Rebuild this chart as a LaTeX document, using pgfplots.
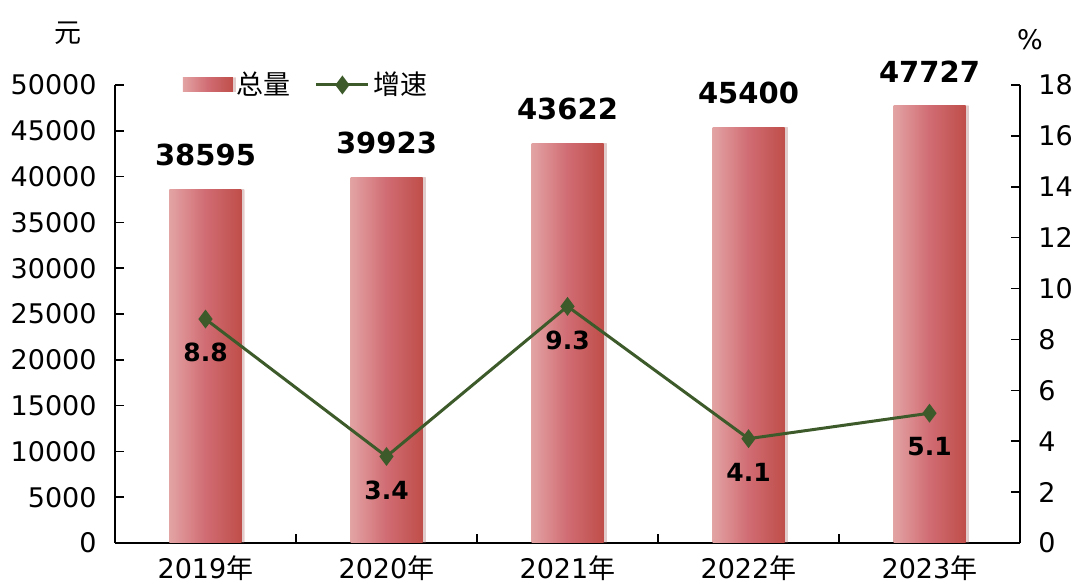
\documentclass[border=0pt]{standalone}
\usepackage{pgfplots}
\pgfplotsset{compat=1.18}
\usetikzlibrary{shadows}
\usepackage{fontspec}
\setmainfont{DejaVu Sans}
\newfontfamily\cjk{Noto Sans CJK SC}
\definecolor{barL}{HTML}{E3A3A3}
\definecolor{barM}{HTML}{D06C73}
\definecolor{barR}{HTML}{BF4E49}
\definecolor{linec}{HTML}{3D5A2A}
\pgfplotsset{
  longline/.style={legend image code/.code={\draw[mark repeat=2, mark phase=2, ##1] plot coordinates {(0pt,0pt) (13pt,0pt) (26pt,0pt)};}},
  barleg/.style={legend image code/.code={\fill[left color=barL, right color=barR, middle color=barM] (0pt,-3.5pt) rectangle (25pt,3.5pt);}},
  onebar/.style={ybar, bar width=36pt, bar shift=0pt, draw=none,
    left color=barL, right color=barR, middle color=barM,
    drop shadow={shadow xshift=1.5pt, shadow yshift=0pt, opacity=0.18, fill=gray},
    nodes near coords,
    every node near coord/.append style={font=\fontsize{14.5}{16}\selectfont\bfseries, black, anchor=south, yshift=8pt,
      /pgf/number format/1000 sep={}, /pgf/number format/assume math mode=true},
    barleg},
}

\begin{document}
\begin{tikzpicture}
\pgfplotsset{
  every axis/.append style={
    width=452.5pt, height=229pt, scale only axis,
    xmin=-0.5, xmax=4.5, clip=false,
    tick align=inside, major tick length=4.5pt,
    tick style={black, line width=0.8pt},
    axis line style={line width=0.8pt},
    tick label style={font=\fontsize{13.5}{15}\selectfont, /pgf/number format/assume math mode=true},
  },
}
\begin{axis}[
  ymin=0, ymax=50000,
  axis x line*=bottom, axis y line*=left,
  ytick={0,5000,...,50000},
  scaled y ticks=false,
  yticklabel style={/pgf/number format/1000 sep={}, inner sep=0pt, xshift=-9pt},
  xtick={0.5,1.5,2.5,3.5}, xticklabels={},
  extra x ticks={0,1,2,3,4},
  extra x tick labels={2019{\cjk 年},2020{\cjk 年},2021{\cjk 年},2022{\cjk 年},2023{\cjk 年}},
  extra x tick style={tick style={draw=none}, xticklabel style={yshift=-3pt}},
  legend style={at={(0.068,1)}, anchor=west, draw=none, fill=none,
    font=\fontsize{13.5}{15}\selectfont, legend columns=2,
    /tikz/every even column/.append style={column sep=10pt}},
]
\addplot[onebar] coordinates {(0,38595)};
\addlegendentry{\cjk 总量}
\addplot[onebar, forget plot] coordinates {(1,39923)};
\addplot[onebar, forget plot] coordinates {(2,43622)};
\addplot[onebar, forget plot] coordinates {(3,45400)};
\addplot[onebar, forget plot] coordinates {(4,47727)};
\addlegendimage{longline, color=linec, line width=1.5pt, mark=diamond*, mark size=3.5pt}
\addlegendentry{\cjk 增速}
\node[anchor=center] at (rel axis cs:-0.052,1.113) {\fontsize{13.5}{15}\selectfont\cjk 元};
\node[anchor=center] at (rel axis cs:1.011,1.098) {\fontsize{13.5}{15}\selectfont \%};
\end{axis}
\begin{axis}[
  ymin=0, ymax=18,
  axis y line*=right, axis x line=none,
  ytick={0,2,...,18},
  yticklabel style={inner sep=0pt, xshift=9pt},
]
\addplot[color=linec, line width=1.5pt, mark=diamond*, mark size=3.5pt,
  nodes near coords,
  every node near coord/.append style={font=\fontsize{12.5}{14}\selectfont\bfseries, black, anchor=north, yshift=-8pt,
    /pgf/number format/fixed, /pgf/number format/precision=1, /pgf/number format/assume math mode=true},
] coordinates {(0,8.8) (1,3.4) (2,9.3) (3,4.1) (4,5.1)};
\end{axis}
\path[use as bounding box] (-57.5pt,-21pt) rectangle (484pt,271.5pt);
\end{tikzpicture}
\end{document}
